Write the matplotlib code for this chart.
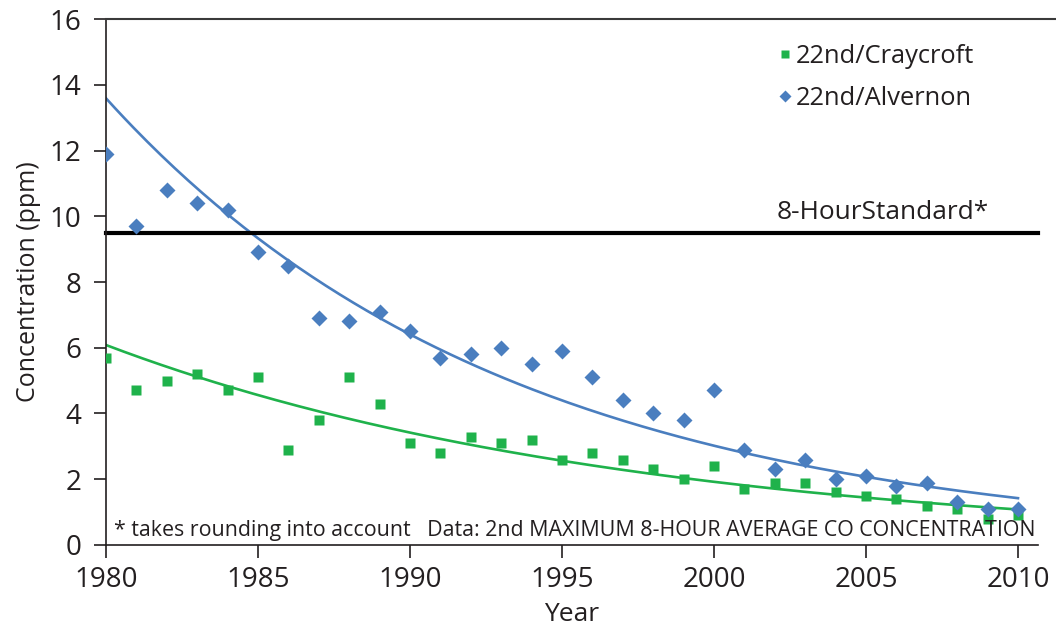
import numpy as np
import matplotlib
matplotlib.use("Agg")
import matplotlib.pyplot as plt
from matplotlib.lines import Line2D

years = list(range(1980, 2011))
alvernon = [11.9, 9.7, 10.8, 10.4, 10.2, 8.9, 8.5, 6.9, 6.8, 7.1, 6.5, 5.7, 5.8, 6.0, 5.5, 5.9,
            5.1, 4.4, 4.0, 3.8, 4.7, 2.9, 2.3, 2.6, 2.0, 2.1, 1.8, 1.9, 1.3, 1.1, 1.1]
craycroft = [5.7, 4.7, 5.0, 5.2, 4.7, 5.1, 2.9, 3.8, 5.1, 4.3, 3.1, 2.8, 3.3, 3.1, 3.2, 2.6,
             2.8, 2.6, 2.3, 2.0, 2.4, 1.7, 1.9, 1.9, 1.6, 1.5, 1.4, 1.2, 1.1, 0.8, 0.9]
standard = 9.5
series_names = ["22nd/Craycroft", "22nd/Alvernon"]
yticks = [0, 2, 4, 6, 8, 10, 12, 14, 16]
xticks = [1980, 1985, 1990, 1995, 2000, 2005, 2010]

BLUE = "#4a7ebf"
GREEN = "#1fb24b"
TXT = "#231f20"
FONT = "Open Sans"
plt.rcParams['font.family'] = [FONT, 'DejaVu Sans']

fig = plt.figure(figsize=(10.56, 6.28), dpi=100)
ax = fig.add_axes([0.1004, 0.1322, 0.8826, 0.8375])

x = np.array(years, dtype=float)

def expfit(y):
    b, a = np.polyfit(x, np.log(np.array(y)), 1)
    xx = np.linspace(1980, 2010, 200)
    return xx, np.exp(a + b * xx)

xx, yb = expfit(alvernon)
ax.plot(xx, yb, color=BLUE, lw=1.9, zorder=2)
xx, yg = expfit(craycroft)
ax.plot(xx, yg, color=GREEN, lw=1.9, zorder=2)

ax.plot(x, craycroft, 's', color=GREEN, ms=7, mec='none', zorder=3)
ax.plot(x, alvernon, 'D', color=BLUE, ms=8, mec='none', zorder=3)

ax.plot([1980, 2010.66], [standard, standard], color='black', lw=3, zorder=2, clip_on=False)
ax.text(2002.05, standard + 0.22, "8-HourStandard*", fontsize=18.9, color=TXT, ha='left', va='bottom')

ax.set_xlim(1980, 2010.66)
ax.set_ylim(0, 16)
ax.set_xticks(xticks)
ax.set_yticks(yticks)
ax.tick_params(axis='both', labelsize=20, colors=TXT, direction='out', length=9, width=1.2)
ax.tick_params(axis='y', pad=9)
ax.tick_params(axis='x', pad=6)
ax.spines['right'].set_visible(False)
ax.spines['top'].set_visible(False)
for s in ['left', 'bottom']:
    ax.spines[s].set_color(TXT)
    ax.spines[s].set_linewidth(1.2)

# top border line extending to figure edge
fig.add_artist(Line2D([0.1004, 1.0], [0.9697, 0.9697], color='#3a3a3a', lw=1.5))

ax.set_ylabel("Concentration (ppm)", fontsize=18, color=TXT, labelpad=6)
ax.set_xlabel("Year", fontsize=19, color=TXT, labelpad=6)

ax.text(1980.25, 0.12, "* takes rounding into account   Data: 2nd MAXIMUM 8-HOUR AVERAGE CO CONCENTRATION",
        fontsize=15.4, color=TXT, ha='left', va='bottom')

handles = [Line2D([], [], marker='s', color=GREEN, ls='none', ms=6, mec='none'),
           Line2D([], [], marker='D', color=BLUE, ls='none', ms=6, mec='none')]
leg = ax.legend(handles, series_names, loc='upper left', bbox_to_anchor=(0.691, 0.997),
                frameon=False, fontsize=18.4, handletextpad=0.0, handlelength=0.9,
                labelspacing=0.68, labelcolor=TXT)

fig.savefig("out.png", dpi=100)
